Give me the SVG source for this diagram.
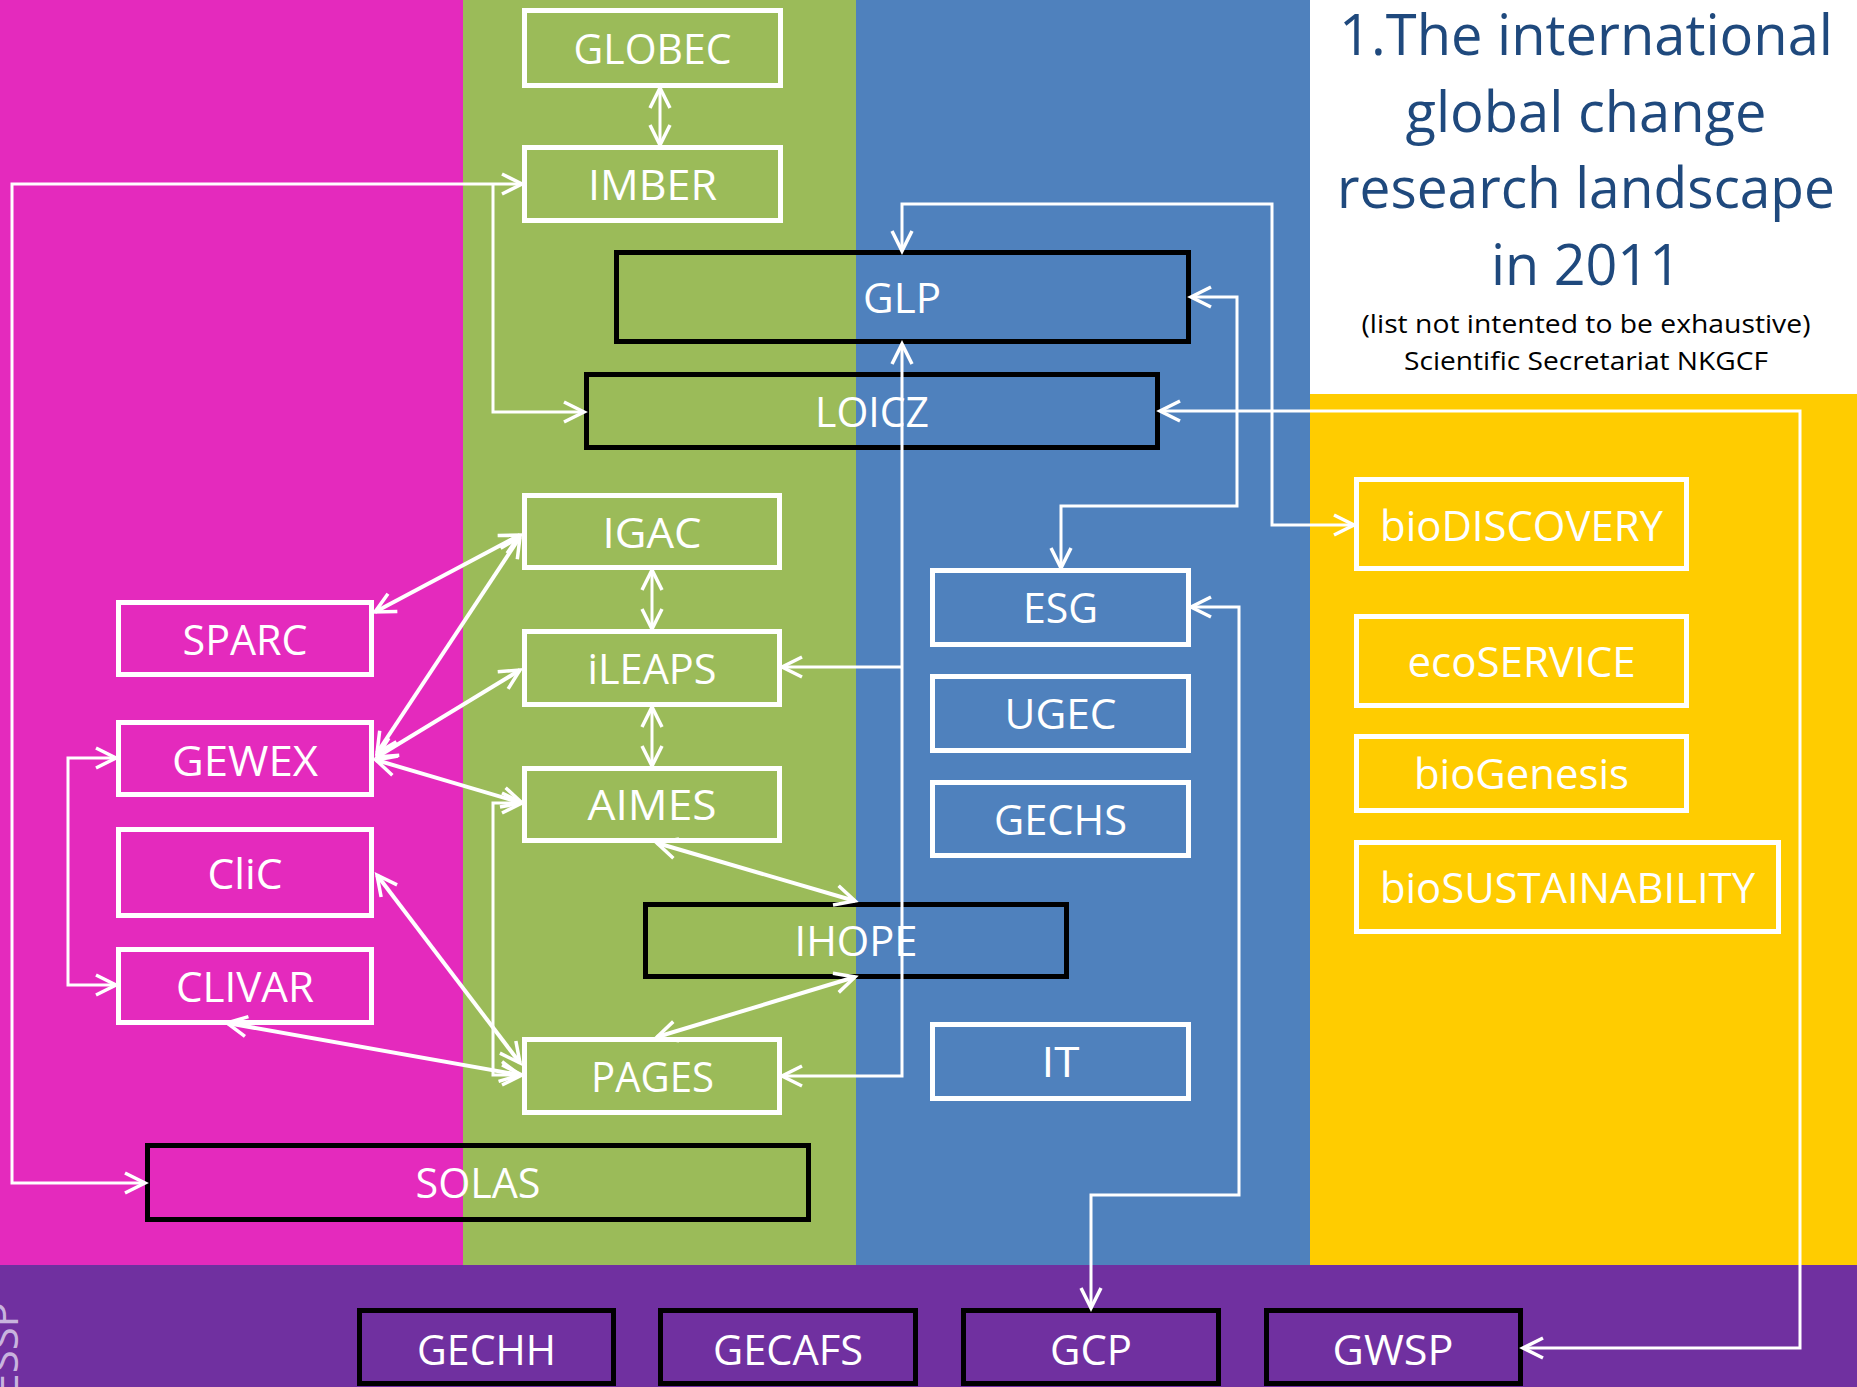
<svg xmlns="http://www.w3.org/2000/svg" width="1857" height="1387" viewBox="0 0 1857 1387">
<style>
.w{fill:none;stroke:#fff;stroke-width:5}
.k{fill:none;stroke:#000;stroke-width:5}
.t{font-family:'Open Sans','Noto Sans',sans-serif;font-size:42px;fill:#fff;text-anchor:middle}
.c{fill:none;stroke:#fff;stroke-width:3;marker-start:url(#a);marker-end:url(#a)}
.d{fill:none;stroke:#fff;stroke-width:4;marker-start:url(#a);marker-end:url(#a)}
.e{fill:none;stroke:#fff;stroke-width:3;marker-end:url(#a)}
.ti{font-family:'Open Sans','Noto Sans',sans-serif;font-size:56px;fill:#1F497D;text-anchor:middle}
.st{font-family:'Open Sans','Noto Sans',sans-serif;font-size:26px;fill:#000;text-anchor:middle}
</style>
<defs>
<marker id="a" markerUnits="userSpaceOnUse" orient="auto-start-reverse" overflow="visible" markerWidth="1" markerHeight="1" refX="0" refY="0">
<path d="M-20,-10 L0,0 L-20,10" fill="none" stroke="#fff" stroke-width="3.5"/>
</marker>
</defs>
<g id="background">
<rect x="0" y="0" width="463" height="1266" fill="#E42ABD"/>
<rect x="463" y="0" width="393" height="1266" fill="#9BBB59"/>
<rect x="856" y="0" width="454" height="1266" fill="#4F81BD"/>
<rect x="1310" y="0" width="547" height="394" fill="#FFFFFF"/>
<rect x="1310" y="394" width="547" height="872" fill="#FFCC00"/>
<rect x="0" y="1265" width="1857" height="122" fill="#7030A0"/>
<text transform="translate(18,1302) rotate(-90)" font-family="'Open Sans','Noto Sans',sans-serif" font-size="42" fill="#C8B4DE" text-anchor="end">ESSP</text>
</g>
<g id="title">
<text class="ti" x="1586" y="55" textLength="494" lengthAdjust="spacingAndGlyphs">1.The international</text>
<text class="ti" x="1586" y="132" textLength="361" lengthAdjust="spacingAndGlyphs">global change</text>
<text class="ti" x="1586" y="208" textLength="498" lengthAdjust="spacingAndGlyphs">research landscape</text>
<text class="ti" x="1586" y="285" textLength="190" lengthAdjust="spacingAndGlyphs">in 2011</text>
<text class="st" x="1586" y="333" textLength="449" lengthAdjust="spacingAndGlyphs">(list not intented to be exhaustive)</text>
<text class="st" x="1586" y="370" textLength="364" lengthAdjust="spacingAndGlyphs">Scientific Secretariat NKGCF</text>
</g>
<g id="nodes">
<g id="GLOBEC"><rect class="w" x="524.5" y="10.5" width="256" height="75"/><text class="t" x="652.5" y="64" textLength="158" lengthAdjust="spacingAndGlyphs">GLOBEC</text></g>
<g id="IMBER"><rect class="w" x="524.5" y="147.5" width="256" height="73"/><text class="t" x="652.5" y="200" textLength="129" lengthAdjust="spacingAndGlyphs">IMBER</text></g>
<g id="GLP"><rect class="k" x="616.5" y="252.5" width="572" height="89"/><text class="t" x="902" y="313" textLength="78" lengthAdjust="spacingAndGlyphs">GLP</text></g>
<g id="LOICZ"><rect class="k" x="586.5" y="374.5" width="571" height="73"/><text class="t" x="872" y="427" textLength="114" lengthAdjust="spacingAndGlyphs">LOICZ</text></g>
<g id="IGAC"><rect class="w" x="524.5" y="495.5" width="255" height="72"/><text class="t" x="652" y="548" textLength="99" lengthAdjust="spacingAndGlyphs">IGAC</text></g>
<g id="iLEAPS"><rect class="w" x="524.5" y="631.5" width="255" height="73"/><text class="t" x="652" y="684" textLength="129" lengthAdjust="spacingAndGlyphs">iLEAPS</text></g>
<g id="AIMES"><rect class="w" x="524.5" y="768.5" width="255" height="72"/><text class="t" x="652" y="820" textLength="129" lengthAdjust="spacingAndGlyphs">AIMES</text></g>
<g id="PAGES"><rect class="w" x="524.5" y="1039.5" width="255" height="73"/><text class="t" x="652.5" y="1092" textLength="123" lengthAdjust="spacingAndGlyphs">PAGES</text></g>
<g id="SPARC"><rect class="w" x="118.5" y="602.5" width="253" height="72"/><text class="t" x="245" y="655" textLength="125" lengthAdjust="spacingAndGlyphs">SPARC</text></g>
<g id="GEWEX"><rect class="w" x="118.5" y="722.5" width="253" height="72"/><text class="t" x="245" y="776" textLength="146" lengthAdjust="spacingAndGlyphs">GEWEX</text></g>
<g id="CliC"><rect class="w" x="118.5" y="829.5" width="253" height="86"/><text class="t" x="245" y="889" textLength="75" lengthAdjust="spacingAndGlyphs">CliC</text></g>
<g id="CLIVAR"><rect class="w" x="118.5" y="949.5" width="253" height="73"/><text class="t" x="245" y="1002" textLength="138" lengthAdjust="spacingAndGlyphs">CLIVAR</text></g>
<g id="IHOPE"><rect class="k" x="645.5" y="904.5" width="421" height="72"/><text class="t" x="856" y="956" textLength="123" lengthAdjust="spacingAndGlyphs">IHOPE</text></g>
<g id="SOLAS"><rect class="k" x="147.5" y="1145.5" width="661" height="74"/><text class="t" x="478" y="1198" textLength="125" lengthAdjust="spacingAndGlyphs">SOLAS</text></g>
<g id="ESG"><rect class="w" x="932.5" y="570.5" width="256" height="74"/><text class="t" x="1060.5" y="623" textLength="75" lengthAdjust="spacingAndGlyphs">ESG</text></g>
<g id="UGEC"><rect class="w" x="932.5" y="676.5" width="256" height="74"/><text class="t" x="1060.5" y="729" textLength="112" lengthAdjust="spacingAndGlyphs">UGEC</text></g>
<g id="GECHS"><rect class="w" x="932.5" y="782.5" width="256" height="73"/><text class="t" x="1060.5" y="835" textLength="133" lengthAdjust="spacingAndGlyphs">GECHS</text></g>
<g id="IT"><rect class="w" x="932.5" y="1024.5" width="256" height="74"/><text class="t" x="1060.5" y="1077" textLength="38" lengthAdjust="spacingAndGlyphs">IT</text></g>
<g id="bioDISCOVERY"><rect class="w" x="1356.5" y="479.5" width="330" height="89"/><text class="t" x="1521.5" y="541" textLength="283" lengthAdjust="spacingAndGlyphs">bioDISCOVERY</text></g>
<g id="ecoSERVICE"><rect class="w" x="1356.5" y="616.5" width="330" height="89"/><text class="t" x="1521.5" y="677" textLength="228" lengthAdjust="spacingAndGlyphs">ecoSERVICE</text></g>
<g id="bioGenesis"><rect class="w" x="1356.5" y="736.5" width="330" height="74"/><text class="t" x="1521.5" y="789" textLength="215" lengthAdjust="spacingAndGlyphs">bioGenesis</text></g>
<g id="bioSUSTAINABILITY"><rect class="w" x="1356.5" y="842.5" width="422" height="89"/><text class="t" x="1567.5" y="903" textLength="375" lengthAdjust="spacingAndGlyphs">bioSUSTAINABILITY</text></g>
<g id="GECHH"><rect class="k" x="359.5" y="1310.5" width="254" height="73"/><text class="t" x="486.5" y="1365" textLength="139" lengthAdjust="spacingAndGlyphs">GECHH</text></g>
<g id="GECAFS"><rect class="k" x="660.5" y="1310.5" width="255" height="73"/><text class="t" x="788" y="1365" textLength="150" lengthAdjust="spacingAndGlyphs">GECAFS</text></g>
<g id="GCP"><rect class="k" x="963.5" y="1310.5" width="255" height="73"/><text class="t" x="1091" y="1365" textLength="82" lengthAdjust="spacingAndGlyphs">GCP</text></g>
<g id="GWSP"><rect class="k" x="1266.5" y="1310.5" width="254" height="73"/><text class="t" x="1393" y="1365" textLength="121" lengthAdjust="spacingAndGlyphs">GWSP</text></g>
</g>
<g id="connectors">
<path class="c" d="M660,88 V145"/>
<path class="c" d="M522,184 H12 V1183 H145"/>
<path class="e" d="M493,184 V412 H584"/>
<path class="c" d="M902,251 V204 H1272 V525 H1354"/>
<path class="c" d="M1191,297 H1237 V506 H1061 V568"/>
<path class="c" d="M1160,411 H1800 V1348 H1523"/>
<path class="c" d="M902,344 V1076 H782"/>
<path class="e" d="M902,667 H782"/>
<path class="c" d="M1191,607 H1239 V1195 H1091 V1308"/>
<path class="c" d="M652,570 V629"/>
<path class="c" d="M652,707 V766"/>
<path class="d" d="M520,535 L375,612"/>
<path class="d" d="M520,537 L377,753"/>
<path class="d" d="M520,670 L377,757"/>
<path class="d" d="M522,803 L376,760"/>
<path class="d" d="M657,843 L855,901"/>
<path class="d" d="M855,977 L657,1037"/>
<path class="d" d="M377,875 L520,1063"/>
<path class="d" d="M227,1023 L520,1075"/>
<path class="c" d="M522,803 H493 V1075 H522"/>
<path class="c" d="M116,758 H68 V985 H116"/>
</g>
</svg>
